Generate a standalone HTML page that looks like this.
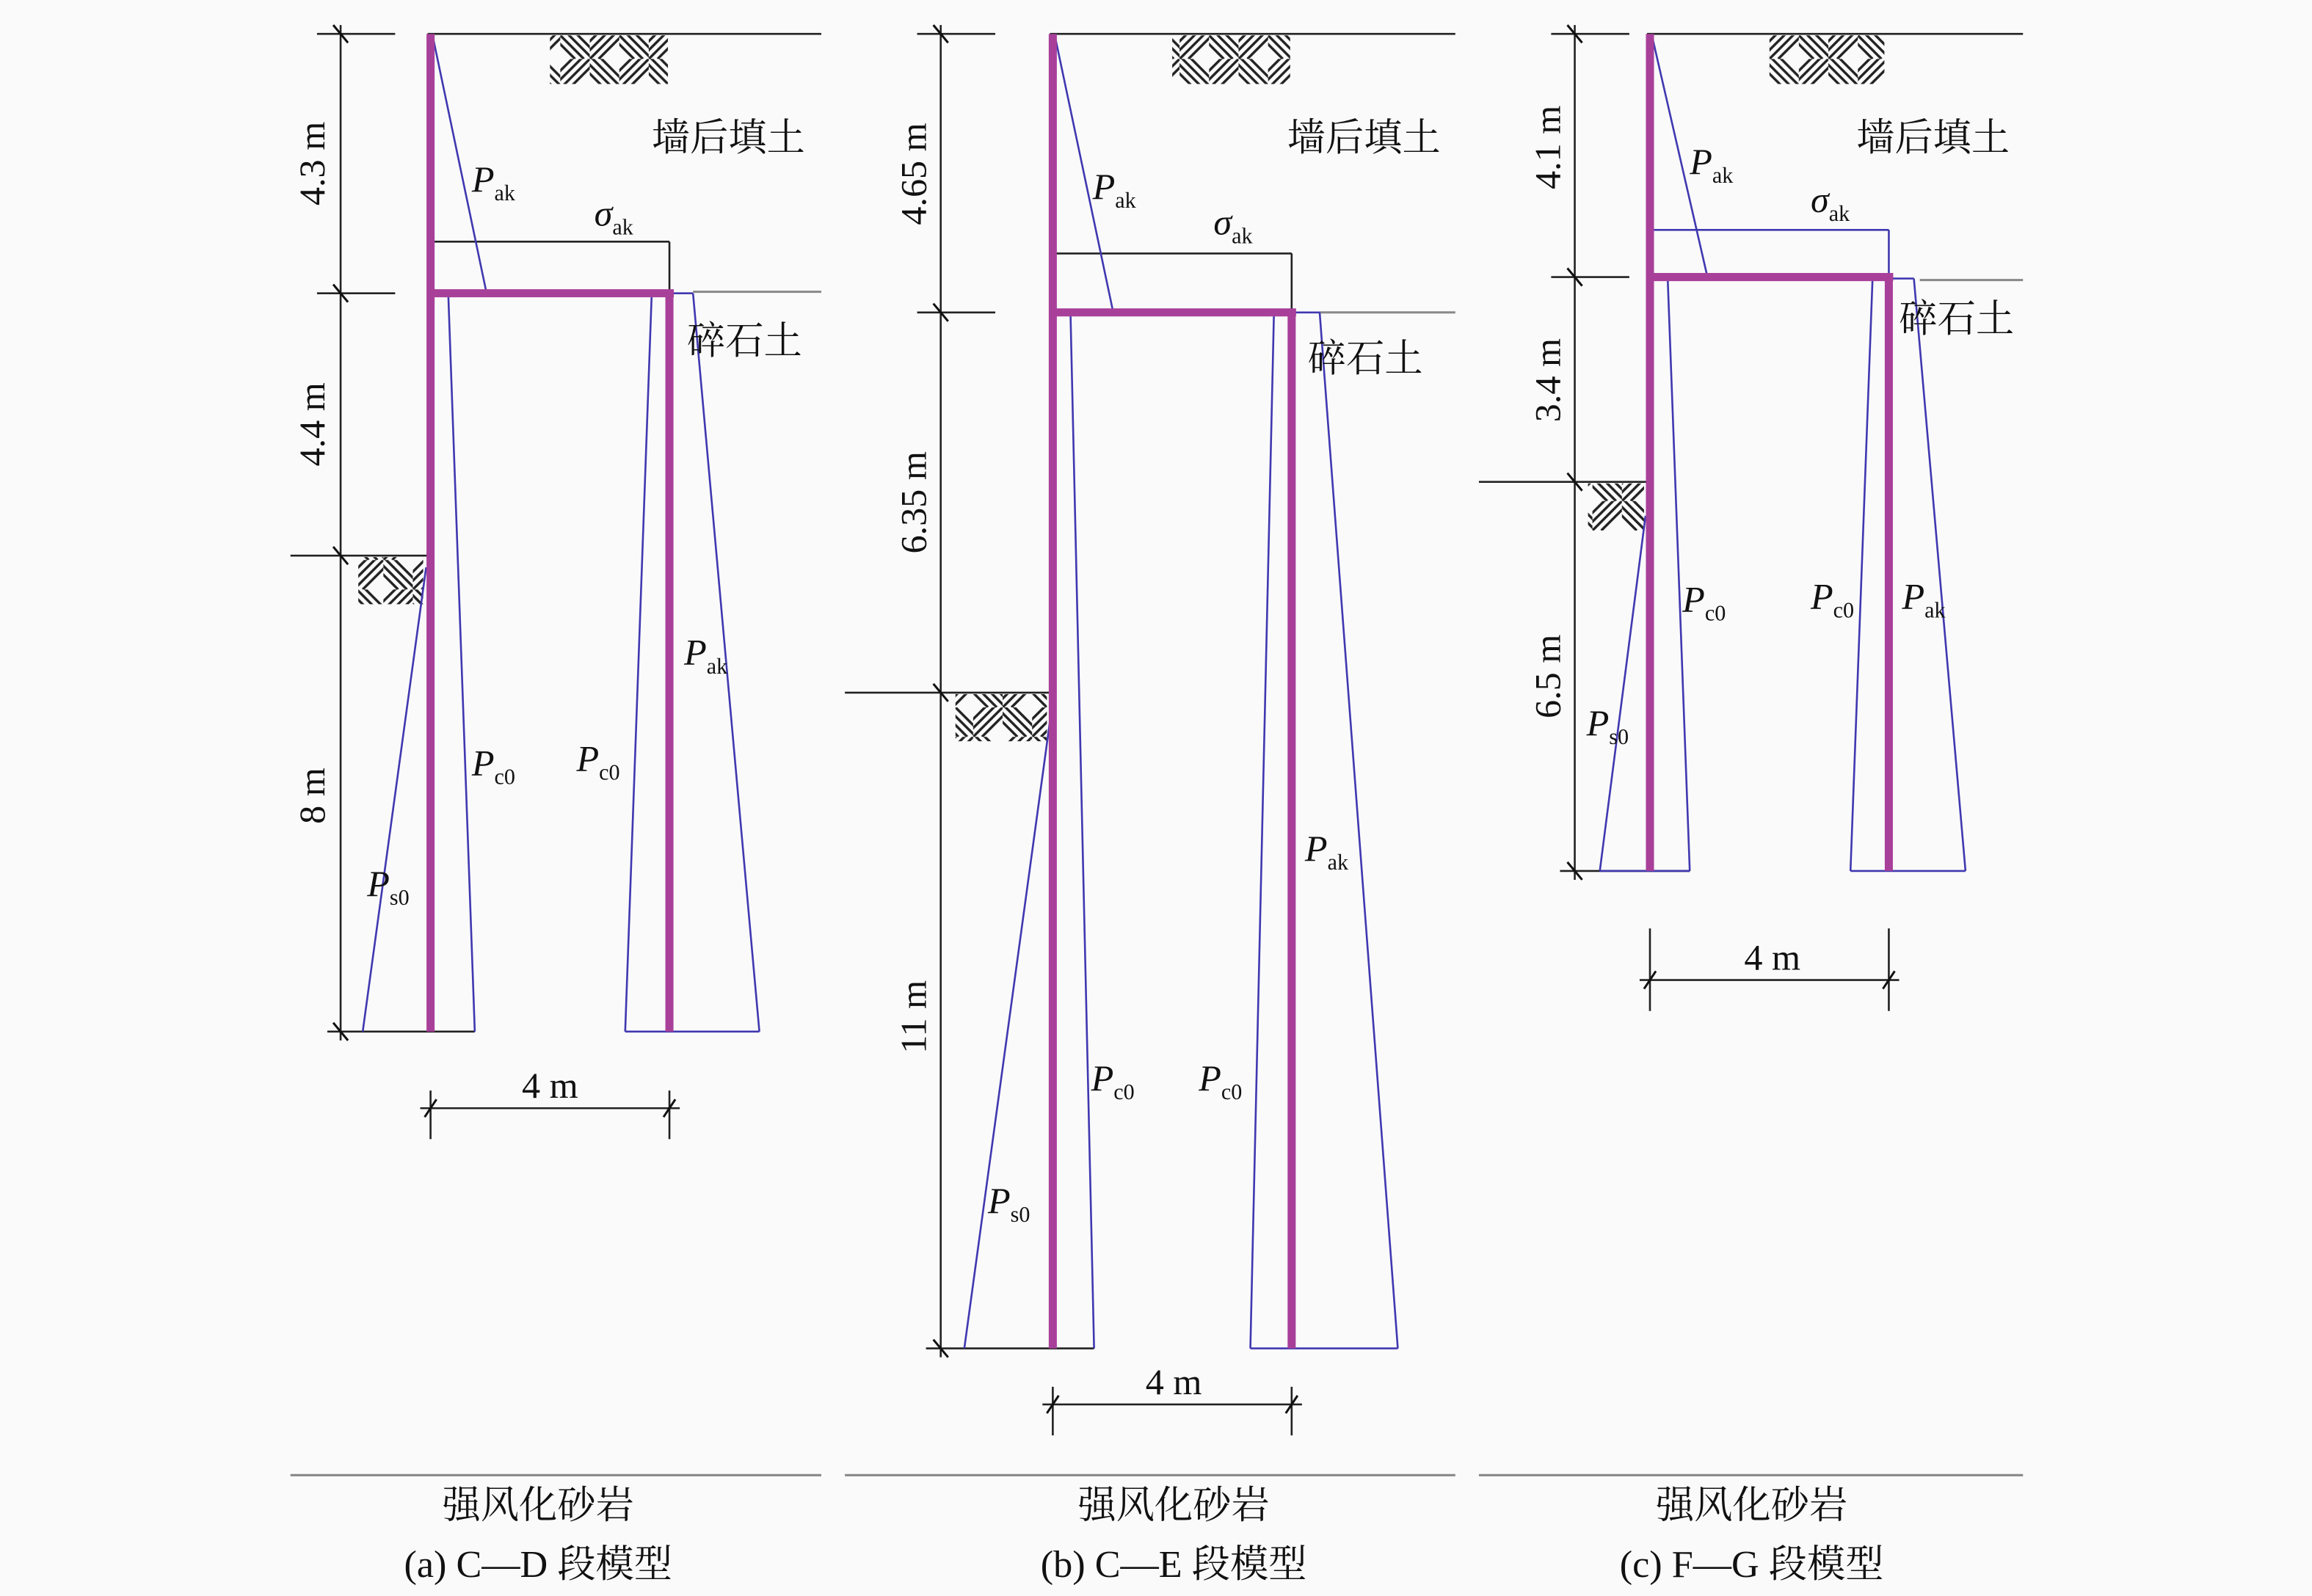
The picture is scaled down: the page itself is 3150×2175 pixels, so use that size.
<!DOCTYPE html>
<html><head><meta charset="utf-8"><style>
html,body{margin:0;padding:0;background:#fafafa}
svg{display:block}
text{font-family:"Liberation Serif","Noto Serif CJK SC",serif;fill:#111}
.k{stroke:#222;stroke-width:1.3;fill:none}
.g{stroke:#888;stroke-width:1.5;fill:none}
.b{stroke:#4038b0;stroke-width:1.3;fill:none}
.m{stroke:#a8409a;stroke-width:5.5;fill:none}
.t{stroke:#111;stroke-width:1.5}
.cn{font-size:26px}
.dm{font-size:25px}
.p{font-size:25px;font-style:italic}
.s{font-size:15px;font-style:normal}
</style></head><body>
<svg width="3150" height="2175" viewBox="0 0 1568 1083" preserveAspectRatio="none" xmlns="http://www.w3.org/2000/svg">
<defs>
<pattern id="h" width="40" height="40" patternUnits="userSpaceOnUse">
<rect width="40" height="40" fill="#fafafa"/>
<g stroke="#222" stroke-width="1.7">
<svg x="0" y="0" width="20" height="20"><path d="M-10 -6 L16 20 M-4 -6 L22 20 M2 -6 L28 20 M-16 -6 L10 20 M-10 0 L10 20"/></svg>
<svg x="20" y="0" width="20" height="20"><path d="M-6 20 L20 -6 M-6 14 L20 -12 M0 20 L26 -6 M6 20 L32 -6 M-6 26 L20 0"/></svg>
<svg x="0" y="20" width="20" height="20"><path d="M-6 20 L20 -6 M-6 14 L20 -12 M0 20 L26 -6 M6 20 L32 -6 M-6 26 L20 0"/></svg>
<svg x="20" y="20" width="20" height="20"><path d="M-10 -6 L16 20 M-4 -6 L22 20 M2 -6 L28 20 M-16 -6 L10 20 M-10 0 L10 20"/></svg>
</g>
</pattern>
</defs>
<rect width="1568" height="1083" fill="#fafafa"/>

<!-- Panel A -->
<g>
<line class="k" x1="290" y1="23" x2="557" y2="23"/>
<rect x="373" y="24" width="80" height="33" fill="url(#h)"/>
<line class="k" x1="231" y1="17" x2="231" y2="706"/>
<line class="k" x1="215" y1="23" x2="268" y2="23"/>
<line class="k" x1="215" y1="199" x2="268" y2="199"/>
<line class="k" x1="197" y1="377" x2="290" y2="377"/>
<line class="k" x1="222" y1="700" x2="322" y2="700"/>
<line class="t" x1="226" y1="17" x2="236" y2="29"/>
<line class="t" x1="226" y1="193" x2="236" y2="205"/>
<line class="t" x1="226" y1="371" x2="236" y2="383"/>
<line class="t" x1="226" y1="694" x2="236" y2="706"/>
<rect x="243" y="378" width="44" height="32" fill="url(#h)"/>
<line class="g" x1="470" y1="198" x2="557" y2="198"/>
<line class="k" x1="292" y1="164" x2="454" y2="164"/>
<line class="k" x1="454" y1="164" x2="454" y2="199"/>
<line class="b" x1="294" y1="27" x2="330" y2="199"/>
<line class="b" x1="304" y1="199" x2="322" y2="700"/>
<line class="b" x1="442" y1="199" x2="424" y2="700"/>
<line class="b" x1="454" y1="199" x2="470" y2="199"/>
<line class="b" x1="470" y1="199" x2="515" y2="700"/>
<line class="b" x1="424" y1="700" x2="515" y2="700"/>
<line class="b" x1="289" y1="385" x2="246" y2="700"/>
<line class="m" x1="292" y1="23" x2="292" y2="700"/>
<line class="m" x1="292" y1="199" x2="457" y2="199"/>
<line class="m" x1="454" y1="199" x2="454" y2="700"/>
<line class="k" x1="285" y1="752" x2="461" y2="752"/>
<line class="k" x1="292" y1="740" x2="292" y2="773"/>
<line class="k" x1="454" y1="740" x2="454" y2="773"/>
<line class="t" x1="288" y1="758" x2="296" y2="746"/>
<line class="t" x1="450" y1="758" x2="458" y2="746"/>
<text class="dm" x="373" y="745" text-anchor="middle">4 m</text>
<text class="dm" transform="translate(220,111) rotate(-90)" text-anchor="middle">4.3 m</text>
<text class="dm" transform="translate(220,288) rotate(-90)" text-anchor="middle">4.4 m</text>
<text class="dm" transform="translate(220,540) rotate(-90)" text-anchor="middle">8 m</text>
<text class="p" x="320" y="130">P<tspan class="s" dy="6">ak</tspan></text>
<text class="p" x="403" y="153">σ<tspan class="s" dy="6">ak</tspan></text>
<text class="cn" x="442" y="102">墙后填土</text>
<text class="cn" x="466" y="240">碎石土</text>
<text class="p" x="464" y="451">P<tspan class="s" dy="6">ak</tspan></text>
<text class="p" x="320" y="526">P<tspan class="s" dy="6">c0</tspan></text>
<text class="p" x="391" y="523">P<tspan class="s" dy="6">c0</tspan></text>
<text class="p" x="249" y="608">P<tspan class="s" dy="6">s0</tspan></text>
<line class="g" x1="197" y1="1001" x2="557" y2="1001"/>
<text class="cn" x="365" y="1030" text-anchor="middle">强风化砂岩</text>
<text class="cn" x="365" y="1070" text-anchor="middle">(a) C—D 段模型</text>
</g>

<!-- Panel B -->
<g>
<line class="k" x1="712" y1="23" x2="987" y2="23"/>
<rect x="795" y="24" width="80" height="33" fill="url(#h)"/>
<line class="k" x1="638" y1="17" x2="638" y2="921"/>
<line class="k" x1="622" y1="23" x2="675" y2="23"/>
<line class="k" x1="622" y1="212" x2="675" y2="212"/>
<line class="k" x1="573" y1="470" x2="712" y2="470"/>
<line class="k" x1="628" y1="915" x2="742" y2="915"/>
<line class="t" x1="633" y1="17" x2="643" y2="29"/>
<line class="t" x1="633" y1="206" x2="643" y2="218"/>
<line class="t" x1="633" y1="464" x2="643" y2="476"/>
<line class="t" x1="633" y1="909" x2="643" y2="921"/>
<rect x="648" y="471" width="62" height="32" fill="url(#h)"/>
<line class="g" x1="895" y1="212" x2="987" y2="212"/>
<line class="k" x1="714" y1="172" x2="876" y2="172"/>
<line class="k" x1="876" y1="172" x2="876" y2="212"/>
<line class="b" x1="716" y1="27" x2="755" y2="212"/>
<line class="b" x1="726" y1="212" x2="742" y2="915"/>
<line class="b" x1="864" y1="212" x2="848" y2="915"/>
<line class="b" x1="876" y1="212" x2="895" y2="212"/>
<line class="b" x1="895" y1="212" x2="948" y2="915"/>
<line class="b" x1="848" y1="915" x2="948" y2="915"/>
<line class="b" x1="712" y1="490" x2="654" y2="915"/>
<line class="m" x1="714" y1="23" x2="714" y2="915"/>
<line class="m" x1="714" y1="212" x2="879" y2="212"/>
<line class="m" x1="876" y1="212" x2="876" y2="915"/>
<line class="k" x1="707" y1="953" x2="883" y2="953"/>
<line class="k" x1="714" y1="941" x2="714" y2="974"/>
<line class="k" x1="876" y1="941" x2="876" y2="974"/>
<line class="t" x1="710" y1="959" x2="718" y2="947"/>
<line class="t" x1="872" y1="959" x2="880" y2="947"/>
<text class="dm" x="796" y="946" text-anchor="middle">4 m</text>
<text class="dm" transform="translate(628,118) rotate(-90)" text-anchor="middle">4.65 m</text>
<text class="dm" transform="translate(628,341) rotate(-90)" text-anchor="middle">6.35 m</text>
<text class="dm" transform="translate(628,690) rotate(-90)" text-anchor="middle">11 m</text>
<text class="p" x="741" y="135">P<tspan class="s" dy="6">ak</tspan></text>
<text class="p" x="823" y="159">σ<tspan class="s" dy="6">ak</tspan></text>
<text class="cn" x="873" y="102">墙后填土</text>
<text class="cn" x="887" y="252">碎石土</text>
<text class="p" x="885" y="584">P<tspan class="s" dy="6">ak</tspan></text>
<text class="p" x="740" y="740">P<tspan class="s" dy="6">c0</tspan></text>
<text class="p" x="813" y="740">P<tspan class="s" dy="6">c0</tspan></text>
<text class="p" x="670" y="823">P<tspan class="s" dy="6">s0</tspan></text>
<line class="g" x1="573" y1="1001" x2="987" y2="1001"/>
<text class="cn" x="796" y="1030" text-anchor="middle">强风化砂岩</text>
<text class="cn" x="796" y="1070" text-anchor="middle">(b) C—E 段模型</text>
</g>

<!-- Panel C -->
<g>
<line class="k" x1="1117" y1="23" x2="1372" y2="23"/>
<rect x="1200" y="24" width="78" height="33" fill="url(#h)"/>
<line class="k" x1="1068" y1="17" x2="1068" y2="597"/>
<line class="k" x1="1052" y1="23" x2="1105" y2="23"/>
<line class="k" x1="1052" y1="188" x2="1105" y2="188"/>
<line class="k" x1="1003" y1="327" x2="1117" y2="327"/>
<line class="k" x1="1058" y1="591" x2="1146" y2="591"/>
<line class="t" x1="1063" y1="17" x2="1073" y2="29"/>
<line class="t" x1="1063" y1="182" x2="1073" y2="194"/>
<line class="t" x1="1063" y1="321" x2="1073" y2="333"/>
<line class="t" x1="1063" y1="585" x2="1073" y2="597"/>
<rect x="1077" y="328" width="38" height="32" fill="url(#h)"/>
<line class="g" x1="1302" y1="190" x2="1372" y2="190"/>
<line class="b" x1="1119" y1="156" x2="1281" y2="156"/>
<line class="b" x1="1281" y1="156" x2="1281" y2="188"/>
<line class="b" x1="1121" y1="27" x2="1158" y2="188"/>
<line class="b" x1="1131" y1="188" x2="1146" y2="591"/>
<line class="b" x1="1270" y1="188" x2="1255" y2="591"/>
<line class="b" x1="1281" y1="189" x2="1298" y2="189"/>
<line class="b" x1="1298" y1="189" x2="1333" y2="591"/>
<line class="b" x1="1255" y1="591" x2="1333" y2="591"/>
<line class="b" x1="1116" y1="350" x2="1085" y2="591"/>
<line class="b" x1="1085" y1="591" x2="1146" y2="591"/>
<line class="m" x1="1119" y1="23" x2="1119" y2="591"/>
<line class="m" x1="1119" y1="188" x2="1284" y2="188"/>
<line class="m" x1="1281" y1="188" x2="1281" y2="591"/>
<line class="k" x1="1112" y1="665" x2="1288" y2="665"/>
<line class="k" x1="1119" y1="630" x2="1119" y2="686"/>
<line class="k" x1="1281" y1="630" x2="1281" y2="686"/>
<line class="t" x1="1115" y1="671" x2="1123" y2="659"/>
<line class="t" x1="1277" y1="671" x2="1285" y2="659"/>
<text class="dm" x="1202" y="658" text-anchor="middle">4 m</text>
<text class="dm" transform="translate(1058,100) rotate(-90)" text-anchor="middle">4.1 m</text>
<text class="dm" transform="translate(1058,258) rotate(-90)" text-anchor="middle">3.4 m</text>
<text class="dm" transform="translate(1058,459) rotate(-90)" text-anchor="middle">6.5 m</text>
<text class="p" x="1146" y="118">P<tspan class="s" dy="6">ak</tspan></text>
<text class="p" x="1228" y="144">σ<tspan class="s" dy="6">ak</tspan></text>
<text class="cn" x="1259" y="102">墙后填土</text>
<text class="cn" x="1288" y="225">碎石土</text>
<text class="p" x="1141" y="415">P<tspan class="s" dy="6">c0</tspan></text>
<text class="p" x="1228" y="413">P<tspan class="s" dy="6">c0</tspan></text>
<text class="p" x="1290" y="413">P<tspan class="s" dy="6">ak</tspan></text>
<text class="p" x="1076" y="499">P<tspan class="s" dy="6">s0</tspan></text>
<line class="g" x1="1003" y1="1001" x2="1372" y2="1001"/>
<text class="cn" x="1188" y="1030" text-anchor="middle">强风化砂岩</text>
<text class="cn" x="1188" y="1070" text-anchor="middle">(c) F—G 段模型</text>
</g>
</svg>
</body></html>
